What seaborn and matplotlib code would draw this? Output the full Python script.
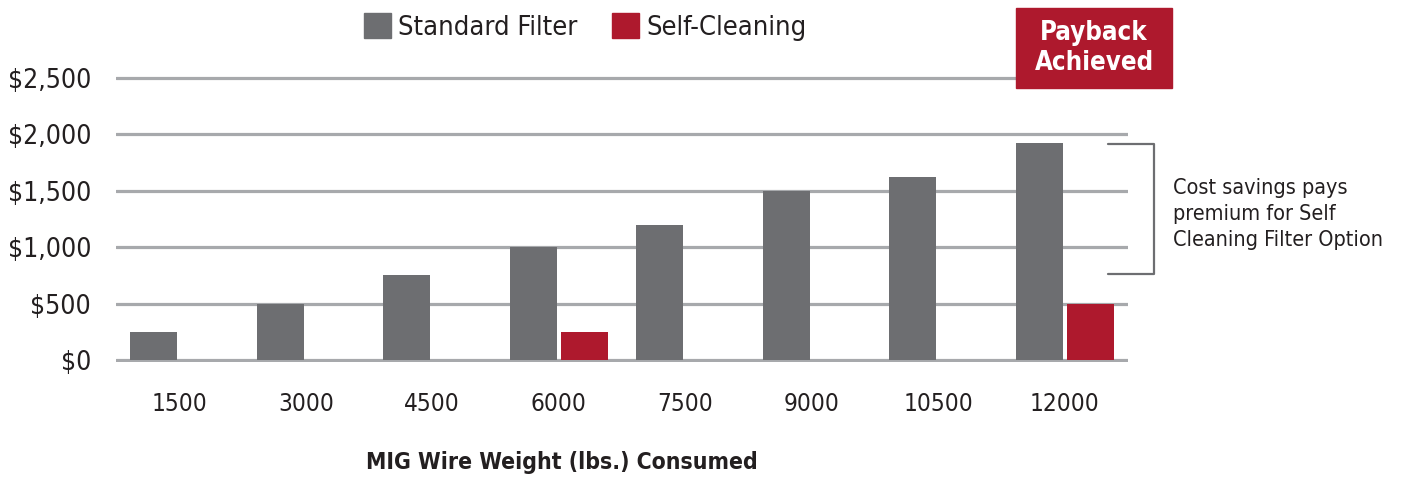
import numpy as np
import pandas as pd
import matplotlib
matplotlib.use('Agg')
import matplotlib.pyplot as plt
import seaborn as sns

# ---- data ----
wire_weight = ['1500', '3000', '4500', '6000', '7500', '9000', '10500', '12000']
standard_cost = [250, 500, 750, 1000, 1200, 1500, 1620, 1920]
self_cleaning_cost = [0, 0, 0, 250, 0, 0, 0, 500]
series = ['Standard Filter', 'Self-Cleaning']
y_ticks = [0, 500, 1000, 1500, 2000, 2500]

GRAY = '#6d6e71'
RED = '#ae192d'
GRID = '#a7a9ac'
INK = '#231f20'

sns.set_theme(style='white')
plt.rcParams['font.family'] = ['DejaVu Sans']
plt.rcParams['font.stretch'] = 'condensed'

df = pd.DataFrame({
    'weight': wire_weight * 2,
    'cost': standard_cost + self_cleaning_cost,
    'series': [series[0]] * len(wire_weight) + [series[1]] * len(wire_weight),
})

fig = plt.figure(figsize=(14.09, 4.79), dpi=100)
ax = fig.add_axes([116 / 1409, 1 - 361.7 / 479, 1012 / 1409, 285.4 / 479])
sns.barplot(data=df, x='weight', y='cost', hue='series', order=wire_weight,
            hue_order=series, palette=[GRAY, RED], width=0.8, gap=0.07,
            linewidth=0, saturation=1, legend=False, ax=ax, zorder=3)

ax.set_xlim(-0.5, len(wire_weight) - 0.5)
ax.set_ylim(-15, 2515)
ax.set_yticks(y_ticks)
ax.set_yticklabels([f'${v:,}' for v in y_ticks])
ax.yaxis.grid(True, color=GRID, linewidth=2.3, zorder=0)
ax.set_axisbelow(True)
for s in ax.spines.values():
    s.set_visible(False)
ax.tick_params(axis='y', length=0, pad=18, labelsize=19, labelcolor=INK)
ax.tick_params(axis='x', length=0, pad=22, labelsize=17.5, labelcolor=INK)
ax.set_xlabel(''); ax.set_ylabel('')

# legend
handles = [plt.Rectangle((0, 0), 1, 1, color=c) for c in (GRAY, RED)]
fig.legend(handles, series, loc='center', bbox_to_anchor=(585 / 1409, 1 - 27 / 479),
           ncol=2, frameon=False, fontsize=19.5, handlelength=1.0, handleheight=1.0,
           handletextpad=0.25, columnspacing=1.3, labelcolor=INK)

# x-axis title
fig.text(562 / 1409, 1 - 463 / 479, 'MIG Wire Weight (lbs.) Consumed',
         ha='center', va='center', fontsize=16.5, fontweight='bold', color=INK)

# payback box
fig.patches.append(plt.Rectangle((1016 / 1409, 1 - 88 / 479), 156 / 1409, 80 / 479,
                                 transform=fig.transFigure, color=RED, zorder=5))
fig.text(1094 / 1409, 1 - 48 / 479, 'Payback\nAchieved', ha='center', va='center',
         fontsize=18.5, fontweight='bold', color='white', linespacing=1.25, zorder=6)

# bracket
bx = [1108 / 1409, 1154 / 1409, 1154 / 1409, 1108 / 1409]
by = [1 - 144 / 479, 1 - 144 / 479, 1 - 274 / 479, 1 - 274 / 479]
fig.add_artist(plt.Line2D(bx, by, color=GRAY, linewidth=1.6, transform=fig.transFigure))
fig.text(1173 / 1409, 1 - 214 / 479, 'Cost savings pays\npremium for Self\nCleaning Filter Option',
         ha='left', va='center', fontsize=15.5, color=INK, linespacing=1.35)

fig.savefig('out.png', dpi=100)
